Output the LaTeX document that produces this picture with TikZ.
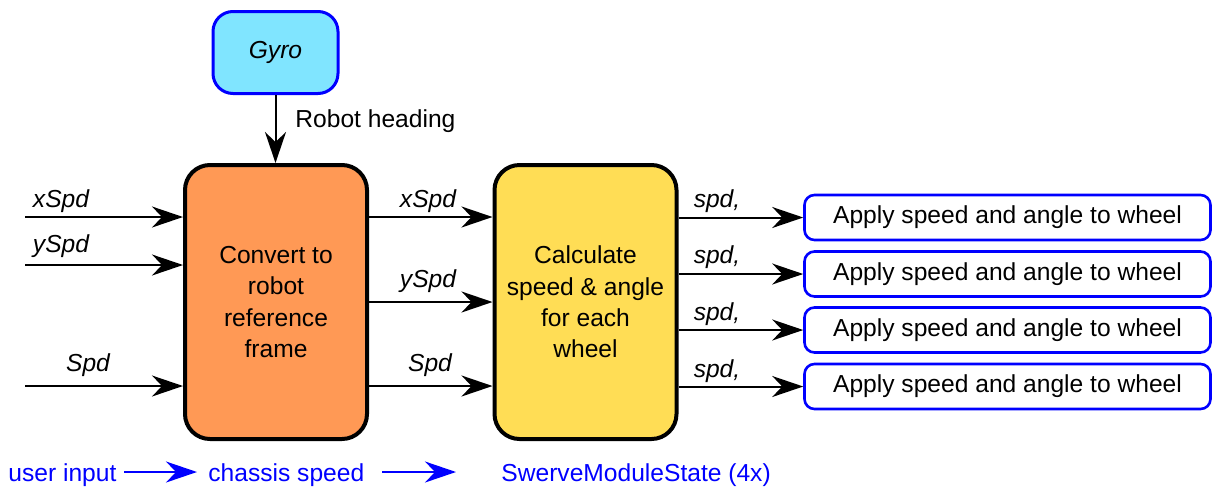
\documentclass[tikz,border=0pt]{standalone}
\usepackage{fontspec}
\setmainfont{Liberation Sans}
\usetikzlibrary{arrows.meta}
\definecolor{gyrofill}{HTML}{80E5FF}
\definecolor{convfill}{HTML}{FF9955}
\definecolor{calcfill}{HTML}{FFDD55}
\begin{document}
\begin{tikzpicture}[x=0.5pt,y=-0.5pt,
  every node/.style={font=\fontsize{12.3}{15.65}\selectfont},
  block/.style={draw=black, line width=2pt, rounded corners=12.5pt,
    minimum width=91pt, minimum height=137pt, align=center, inner sep=0pt},
  gyrobox/.style={draw=blue, line width=1.5pt, fill=gyrofill, rounded corners=10pt,
    minimum width=62.5pt, minimum height=41pt, inner sep=0pt},
  wheelbox/.style={draw=blue, line width=1.3pt, fill=white, rounded corners=5pt,
    minimum width=203pt, minimum height=22.5pt, inner sep=0pt},
  sig/.style={line width=1pt, -{Stealth[length=15.5pt,width=10.5pt,inset=5pt]}},
  bsig/.style={line width=1pt, draw=blue, -{Stealth[length=15.5pt,width=10.5pt,inset=5pt]}},
  lbl/.style={font=\fontsize{12.3}{15.65}\selectfont\itshape, anchor=base, inner sep=0pt},
  note/.style={text=blue, anchor=base west, inner sep=0pt}]
\useasboundingbox (0,0) rectangle (1213,488);

% main blocks
\node[gyrobox] (gyro) at (275.5,52.5) {\itshape Gyro};
\node[block, fill=convfill] (conv) at (276,302) {Convert to\\robot\\reference\\frame};
\node[block, fill=calcfill] (calc) at (585.5,302) {Calculate\\speed \& angle\\for each\\wheel};

% wheel boxes
\node[wheelbox] (w1) at (1007.5,217.5) {Apply speed and angle to wheel};
\node[wheelbox] (w2) at (1007.5,274) {Apply speed and angle to wheel};
\node[wheelbox] (w3) at (1007.5,330) {Apply speed and angle to wheel};
\node[wheelbox] (w4) at (1007.5,386.5) {Apply speed and angle to wheel};

% gyro to convert
\draw[sig] (gyro.south) -- (gyro.south |- conv.north);
\node[anchor=base west, inner sep=0pt] (rh) at (295,127) {Robot heading};

% inputs
\coordinate (inx) at (25,217);
\coordinate (iny) at (25,265);
\coordinate (ins) at (25,386);
\draw[sig] (inx) -- (inx -| conv.west);
\draw[sig] (iny) -- (iny -| conv.west);
\draw[sig] (ins) -- (ins -| conv.west);
\node[lbl] (lx) at (61,207) {xSpd};
\node[lbl] (ly) at (61,252) {ySpd};
\node[lbl] (ls) at (88,371) {Spd};

% convert to calculate
\draw[sig] (conv.east |- inx) -- (calc.west |- inx);
\draw[sig] (conv.east) -- (calc.west);
\draw[sig] (conv.east |- ins) -- (calc.west |- ins);
\node[lbl] (mx) at (428,207) {xSpd};
\node[lbl] (my) at (428,287) {ySpd};
\node[lbl] (ms) at (430,371) {Spd};

% calculate to wheels
\draw[sig] (calc.east |- w1) -- (w1.west);
\draw[sig] (calc.east |- w2) -- (w2.west);
\draw[sig] (calc.east |- w3) -- (w3.west);
\draw[sig] (calc.east |- w4) -- (w4.west);
\node[lbl] (s1) at (717,207) {spd,};
\node[lbl] (s2) at (717,263) {spd,};
\node[lbl] (s3) at (717,320) {spd,};
\node[lbl] (s4) at (717,377) {spd,};

% legend
\node[note] (ui) at (8,481) {user input};
\node[note] (cs) at (208,481) {chassis speed};
\node[note] (sm) at (501,481) {SwerveModuleState (4x)};
\coordinate (b1s) at (124,472);
\coordinate (b1e) at (197,472);
\coordinate (b2s) at (382,472);
\coordinate (b2e) at (456,472);
\draw[bsig] (b1s) -- (b1e);
\draw[bsig] (b2s) -- (b2e);
\end{tikzpicture}
\end{document}
